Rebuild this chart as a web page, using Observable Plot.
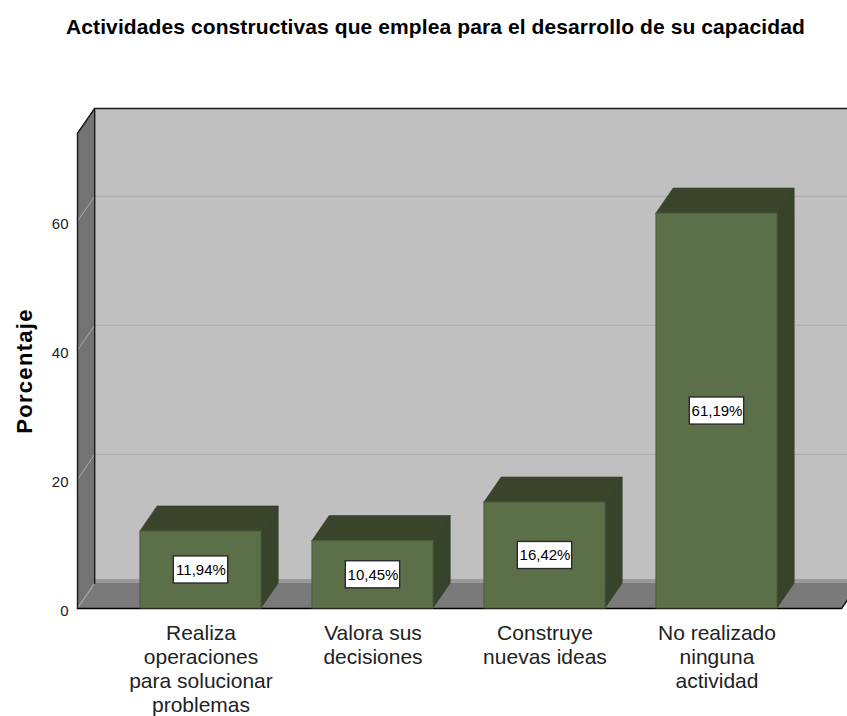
<!DOCTYPE html>
<html><head><meta charset="utf-8">
<script src="https://cdn.jsdelivr.net/npm/d3@7"></script>
<script src="https://cdn.jsdelivr.net/npm/@observablehq/plot@0.6"></script>
<style>
html,body{margin:0;padding:0;background:#fff;overflow:hidden}
#title{height:52px;text-align:center;font:bold 21px/54px "Liberation Sans",Arial,sans-serif;letter-spacing:.1px;color:#000;width:871px;white-space:nowrap}
svg{display:block}
</style></head><body>
<div id="title">Actividades constructivas que emplea para el desarrollo de su capacidad</div>
<div id="chart"></div>
<script>
const categories = ["Realiza\noperaciones\npara solucionar\nproblemas","Valora sus\ndecisiones","Construye\nnuevas ideas","No realizado\nninguna\nactividad"];
const percentages = [11.94,10.45,16.42,61.19];
const valueLabels = ["11,94%","10,45%","16,42%","61,19%"];
const yTicks = [0,20,40,60];

const xMin=-0.718, xMax=3.724, yMax=73.6, dx=0.1, dy=3.88, half=0.352;
const idx = categories.map((_,i)=>i);
const FRONT="#5b7048", TOP="#3a452c", SIDE="#37442b", WALL="#c0c0c0", SW="#737373", FLOOR="#7a7a7a", GRID="#a9a9a9";

const barMarks = idx.flatMap(i=>{
  const v=percentages[i], l=i-half, r=i+half;
  return [
    Plot.areaY([{x:r,y1:0,y2:v},{x:r+dx,y1:dy,y2:v+dy}],{x:"x",y1:"y1",y2:"y2",fill:SIDE,stroke:"#333e27",strokeWidth:0.6}),
    Plot.areaX([{y:v,x1:l,x2:r},{y:v+dy,x1:l+dx,x2:r+dx}],{y:"y",x1:"x1",x2:"x2",fill:TOP,stroke:"#333e27",strokeWidth:0.6}),
    Plot.rect([{x1:l,x2:r,y1:0,y2:v}],{x1:"x1",x2:"x2",y1:"y1",y2:"y2",fill:FRONT,stroke:"#4a5b3b",strokeWidth:1})
  ];
});

const chart = Plot.plot({
  width:847,height:664,
  marginLeft:77,marginRight:6,marginTop:81,marginBottom:108,
  style:{overflow:"hidden",background:"#fff",fontFamily:"'Liberation Sans',Arial,sans-serif"},
  x:{type:"linear",domain:[xMin,xMax]},
  y:{domain:[0,yMax]},
  marks:[
    // back wall
    Plot.rect([0],{x1:xMin+dx,x2:xMax+dx,y1:dy,y2:yMax+dy,fill:WALL}),
    // gridlines on back wall
    Plot.ruleY(yTicks.slice(1),{y:d=>d+dy,x1:xMin+dx,x2:xMax+dx,stroke:GRID,strokeWidth:1}),
    // floor
    Plot.rect([0],{x1:xMin+dx,x2:xMax+dx,y1:dy,y2:dy+0.6,fill:"#999"}),
    Plot.areaX([{y:0,x1:xMin,x2:xMax},{y:dy,x1:xMin+dx,x2:xMax+dx}],{y:"y",x1:"x1",x2:"x2",fill:FLOOR}),
    // left wall
    Plot.areaY([{x:xMin,y1:0,y2:yMax},{x:xMin+dx,y1:dy,y2:yMax+dy}],{x:"x",y1:"y1",y2:"y2",fill:SW}),
    // wall gridlines
    ...yTicks.map(t=>Plot.line([[xMin,t],[xMin+dx,t+dy]],{stroke:GRID,strokeWidth:1})),
    // frame
    Plot.line([[xMin,0],[xMin,yMax],[xMin+dx,yMax+dy],[xMax+dx,yMax+dy]],{stroke:"#1a1a1a",strokeWidth:1.4}),
    Plot.line([[xMin+dx,dy],[xMin+dx,yMax+dy]],{stroke:"#1a1a1a",strokeWidth:1.4}),
    Plot.line([[xMin,0],[xMax,0],[xMax+dx,dy]],{stroke:"#000",strokeWidth:1.4}),
    ...barMarks,
    // value boxes
    Plot.rect(idx,{x1:i=>i-0.158,x2:i=>i+0.158,y1:i=>percentages[i]/2-2.1,y2:i=>percentages[i]/2+2.1,fill:"#fff",stroke:"#2a2a2a",strokeWidth:1.4}),
    Plot.text(idx,{x:i=>i,y:i=>percentages[i]/2,text:i=>valueLabels[i],fontSize:15,fill:"#000"}),
    // axes
    Plot.axisX({ticks:idx,tickFormat:i=>categories[i],tickSize:0,tickPadding:14,fontSize:21,lineHeight:1.143,lineAnchor:"top",label:null,fill:"#222"}),
    Plot.axisY({ticks:yTicks,tickFormat:d=>d,tickSize:0,tickPadding:9,fontSize:15,dy:3,label:null,fill:"#222"}),
    Plot.text(["Porcentaje"],{frameAnchor:"left",textAnchor:"middle",dx:-53,rotate:-90,fontSize:22,fontWeight:"bold",fill:"#000"})
  ]
});
d3.select(chart).selectAll("text").filter(function(){return this.textContent==="Porcentaje";}).style("letter-spacing","1.3px");
document.getElementById("chart").append(chart);
</script>
</body></html>
